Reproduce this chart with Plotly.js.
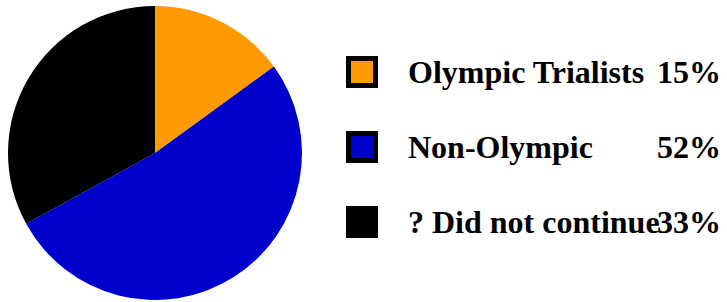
<!DOCTYPE html>
<html>
<head>
<meta charset="utf-8">
<script src="https://cdn.plot.ly/plotly-3.0.1.min.js"></script>
<style>html,body{margin:0;padding:0;background:#fff;}#chart{width:727px;height:302px;}</style>
</head>
<body>
<div id="chart"></div>
<script>
const labels = ["Olympic Trialists", "Non-Olympic", "? Did not continue"];
const values = [15, 52, 33];
const pctLabels = ["15%", "52%", "33%"];
const colors = ["#FF9900", "#0000CC", "#000000"];

const W = 727, H = 302;
const font = {family: "Liberation Serif", size: 32, color: "#000000"};

const rowY = [72, 147, 222]; // pixel centres of legend rows
const annotations = [];
const shapes = [];
labels.forEach((lab, i) => {
  const yp = 1 - rowY[i] / H;
  annotations.push({xref: "paper", yref: "paper", x: 406 / W, y: yp, xanchor: "left", yanchor: "middle",
    text: "<b>" + lab + "</b>", showarrow: false, font: font});
  annotations.push({xref: "paper", yref: "paper", x: 723 / W, y: yp, xanchor: "right", yanchor: "middle",
    text: "<b>" + pctLabels[i] + "</b>", showarrow: false, font: font});
  shapes.push({type: "rect", xref: "paper", yref: "paper",
    x0: 348.5 / W, x1: 375.5 / W, y0: 1 - (rowY[i] + 13.5) / H, y1: 1 - (rowY[i] - 13.5) / H,
    fillcolor: colors[i], line: {color: "#000", width: 5}});
});

Plotly.newPlot("chart", [{
  type: "pie",
  labels: labels,
  values: values,
  sort: false,
  direction: "clockwise",
  rotation: 0,
  textinfo: "none",
  hoverinfo: "none",
  marker: {colors: colors, line: {width: 0}},
  domain: {x: [8 / W, 302 / W], y: [2 / H, 296 / H]},
  showlegend: false
}], {
  width: W, height: H,
  margin: {l: 0, r: 0, t: 0, b: 0},
  paper_bgcolor: "#fff",
  showlegend: false,
  annotations: annotations,
  shapes: shapes
}, {staticPlot: true});
</script>
</body>
</html>
